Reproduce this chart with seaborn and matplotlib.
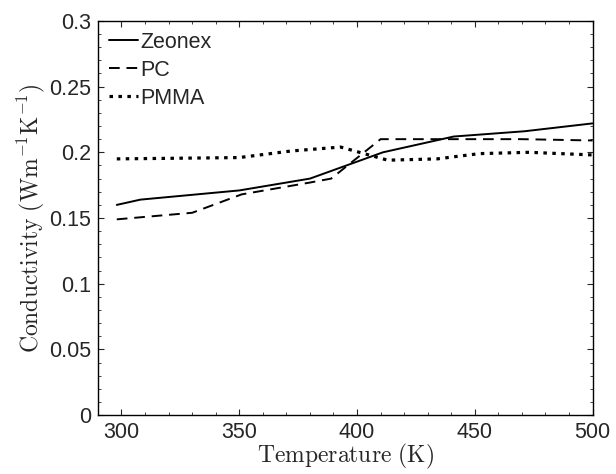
import pandas as pd
import matplotlib.pyplot as plt
import seaborn as sns
from matplotlib.ticker import MultipleLocator

# values
zeonex_T = [298, 308, 350, 380, 411, 441, 471, 500]
zeonex_k = [0.160, 0.164, 0.171, 0.180, 0.200, 0.212, 0.216, 0.222]

pc_T = [298, 330, 351, 380, 389, 410, 440, 470, 500]
pc_k = [0.149, 0.154, 0.168, 0.177, 0.180, 0.210, 0.210, 0.210, 0.209]

pmma_T = [298, 350, 372, 393, 413, 434, 452, 473, 500]
pmma_k = [0.195, 0.196, 0.201, 0.204, 0.194, 0.195, 0.199, 0.200, 0.198]

x_ticks = [300, 350, 400, 450, 500]
y_ticks = [0, 0.05, 0.1, 0.15, 0.2, 0.25, 0.3]
y_labels = ["0", "0.05", "0.1", "0.15", "0.2", "0.25", "0.3"]

df = pd.concat([
    pd.DataFrame({"T": zeonex_T, "k": zeonex_k, "Material": "Zeonex"}),
    pd.DataFrame({"T": pc_T, "k": pc_k, "Material": "PC"}),
    pd.DataFrame({"T": pmma_T, "k": pmma_k, "Material": "PMMA"}),
])

sns.set_style("ticks")
plt.rcParams['font.family'] = ['Liberation Sans', 'DejaVu Sans']
plt.rcParams['mathtext.fontset'] = 'cm'

fig, ax = plt.subplots(figsize=(6.16, 4.74), dpi=100)
fig.subplots_adjust(left=0.159, right=0.962, top=0.956, bottom=0.124)

styles = {"Zeonex": ("-", 1.4), "PC": ((0, (5.5, 3.5)), 1.4), "PMMA": ((0, (1.1, 1.7)), 2.3)}
for name in ["Zeonex", "PC", "PMMA"]:
    ls, lw = styles[name]
    sns.lineplot(data=df[df["Material"] == name], x="T", y="k", ax=ax,
                 color="black", linestyle=ls, linewidth=lw, label=name)

ax.set_xlim(290, 500)
ax.set_ylim(0, 0.3)
ax.set_xticks(x_ticks)
ax.set_yticks(y_ticks)
ax.set_yticklabels(y_labels)
ax.xaxis.set_minor_locator(MultipleLocator(10))
ax.yaxis.set_minor_locator(MultipleLocator(0.01))
ax.tick_params(which="both", direction="in", top=True, right=True, labelsize=15.5, pad=5)
ax.tick_params(which="major", length=4.5, width=0.8)
ax.tick_params(which="minor", length=2.5, width=0.6)
for s in ax.spines.values():
    s.set_linewidth(1.0)
    s.set_color("black")

ax.set_xlabel(r"$\mathrm{Temperature\ (K)}$", fontsize=17, labelpad=-1)
ax.set_ylabel(r"$\mathrm{Conductivity\ (Wm^{-1}K^{-1})}$", fontsize=17, labelpad=1)

ax.legend(loc="upper left", frameon=False, fontsize=15.5, handlelength=1.35,
          handletextpad=0.1, labelspacing=0.33, borderaxespad=0.3, borderpad=0.2)

fig.savefig("out.png", dpi=100)
